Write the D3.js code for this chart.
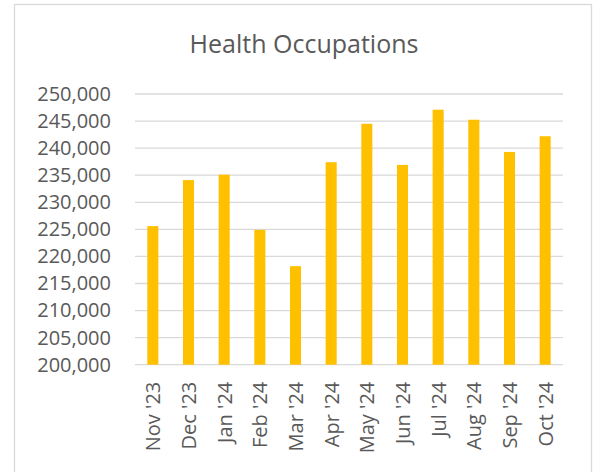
<!DOCTYPE html>
<html>
<head>
<meta charset="utf-8">
<script src="https://cdn.jsdelivr.net/npm/d3@7"></script>
<style>
  html, body { margin: 0; padding: 0; background: #fff; }
  svg { display: block; }
  text { font-family: "Open Sans", sans-serif; fill: #595959; }
</style>
</head>
<body>
<div id="chart"></div>
<script>
const title = "Health Occupations";
const categories = ["Nov '23", "Dec '23", "Jan '24", "Feb '24", "Mar '24", "Apr '24", "May '24", "Jun '24", "Jul '24", "Aug '24", "Sep '24", "Oct '24"];
const values = [225600, 234100, 235100, 224900, 218200, 237400, 244500, 236900, 247100, 245250, 239300, 242200];
const yTicks = [200000, 205000, 210000, 215000, 220000, 225000, 230000, 235000, 240000, 245000, 250000];

const W = 601, H = 472;
const plot = { left: 135, right: 563, top: 94, bottom: 364.7 };

const svg = d3.select("#chart").append("svg").attr("width", W).attr("height", H);

svg.append("rect")
  .attr("x", 14.5).attr("y", 4.5).attr("width", 577).attr("height", 480)
  .attr("fill", "#fff").attr("stroke", "#d9d9d9").attr("stroke-width", 1.3);

const x = d3.scaleBand().domain(categories).range([plot.left, plot.right]).paddingInner(0.69).paddingOuter(0.345);
const y = d3.scaleLinear().domain([200000, 250000]).range([plot.bottom, plot.top]);

// gridlines
svg.append("g").selectAll("line").data(yTicks).join("line")
  .attr("x1", plot.left).attr("x2", plot.right)
  .attr("y1", d => y(d)).attr("y2", d => y(d))
  .attr("stroke", "#d9d9d9").attr("stroke-width", 1.3);

// bars
svg.append("g").selectAll("rect").data(values).join("rect")
  .attr("x", (d, i) => x(categories[i]))
  .attr("width", x.bandwidth())
  .attr("y", d => y(d))
  .attr("height", d => y(200000) - y(d))
  .attr("fill", "#FFC000");

// y axis labels
const fmt = d3.format(",");
const yAxis = d3.axisLeft(y).tickValues(yTicks).tickFormat(fmt).tickSize(0).tickPadding(0);
const gy = svg.append("g").attr("transform", "translate(111,0)").call(yAxis);
gy.select(".domain").remove();
gy.selectAll("text").attr("font-size", 20).attr("font-family", "Open Sans").attr("fill", "#595959");

// x axis labels
const xAxis = d3.axisBottom(x).tickSize(0).tickPadding(0);
const gx = svg.append("g").attr("transform", `translate(0,${plot.bottom})`).call(xAxis);
gx.select(".domain").remove();
gx.selectAll("text")
  .attr("font-size", 20).attr("font-family", "Open Sans").attr("fill", "#595959")
  .attr("text-anchor", "end")
  .attr("dy", null)
  .attr("dominant-baseline", "central")
  .attr("transform", "translate(0,17) rotate(-90)");

// title
svg.append("text")
  .attr("x", 304).attr("y", 52.7)
  .attr("text-anchor", "middle")
  .attr("font-size", 25)
  .text(title);
</script>
</body>
</html>
